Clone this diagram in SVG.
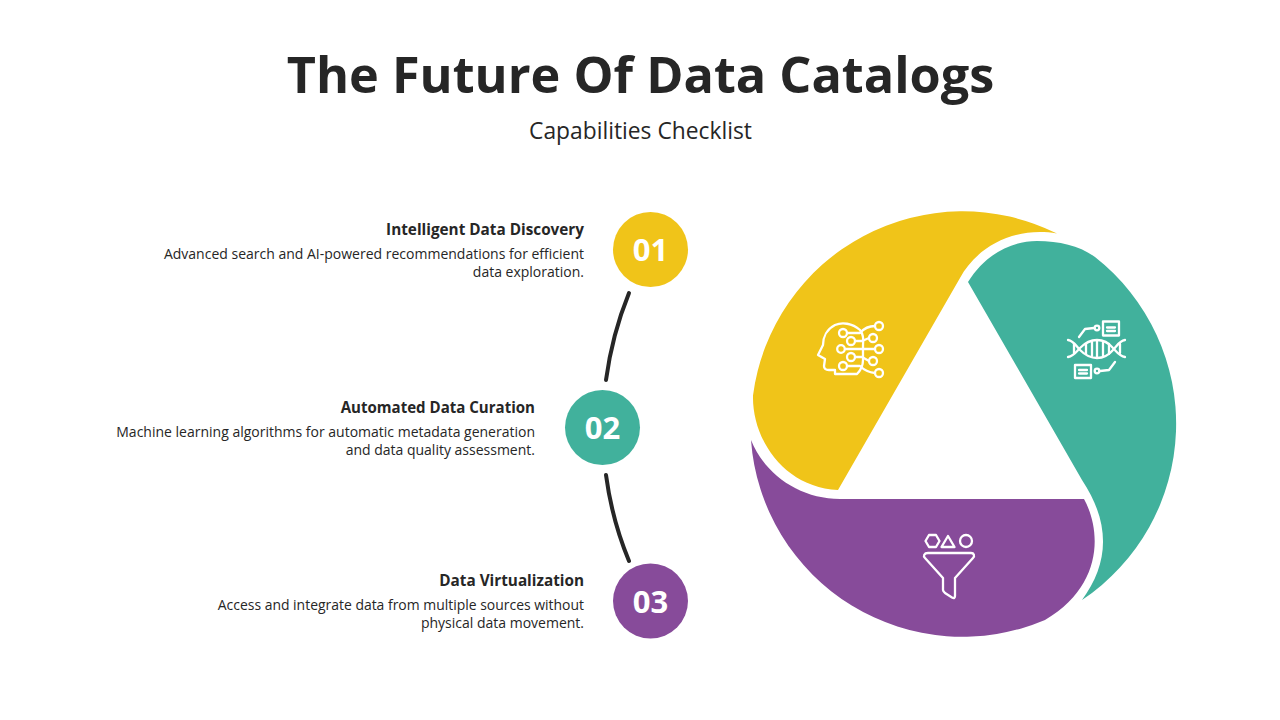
<svg xmlns="http://www.w3.org/2000/svg" width="1280" height="720" viewBox="0 0 1280 720">
<style>
text{font-family:"Open Sans","Noto Sans","Liberation Sans",sans-serif;fill:#262626}
.t{font-size:15.300px;font-weight:700;text-anchor:end}
.d{font-size:14px;text-anchor:end}
.n{font-size:31px;font-weight:700;fill:#fff;text-anchor:middle}
.i{fill:none;stroke:#fff;stroke-width:2.300;stroke-linecap:round;stroke-linejoin:round}
.c{fill:none;stroke:#262626;stroke-width:4;stroke-linecap:round}
</style>
<rect width="1280" height="720" fill="#fff"/>
<text id="title" x="640.500" y="93" text-anchor="middle" font-size="50.400" font-weight="700">The Future Of Data Catalogs</text>
<text id="subtitle" x="640.500" y="139" text-anchor="middle" font-size="22.800">Capabilities Checklist</text>
<g id="connectors">
<path class="c" d="M629 293Q612 335 606 380"/>
<path class="c" d="M606 475Q612 520 629 561"/>
</g>
<g id="node-1">
<circle cx="650.500" cy="249.500" r="37.500" fill="#f0c419"/>
<text class="n" x="650.500" y="261">01</text>
<text class="t" x="584" y="235">Intelligent Data Discovery</text>
<text class="d" x="584" y="259">Advanced search and AI-powered recommendations for efficient</text>
<text class="d" x="584" y="277">data exploration.</text>
</g>
<g id="node-2">
<circle cx="602.500" cy="427.500" r="37.500" fill="#41b19c"/>
<text class="n" x="602.500" y="439">02</text>
<text class="t" x="535" y="413" style="font-size:15.050px">Automated Data Curation</text>
<text class="d" x="535" y="437">Machine learning algorithms for automatic metadata generation</text>
<text class="d" x="535" y="455">and data quality assessment.</text>
</g>
<g id="node-3">
<circle cx="650.500" cy="601" r="37.500" fill="#874b9a"/>
<text class="n" x="650.500" y="612.500">03</text>
<text class="t" x="584" y="586">Data Virtualization</text>
<text class="d" x="584" y="610" style="font-size:13.950px">Access and integrate data from multiple sources without</text>
<text class="d" x="584" y="628">physical data movement.</text>
</g>
<g id="segment-yellow">
<path fill="#f0c419" d="M1057 233.500A211.500 211.500 0 0 0 753 395.500C752 440 785 488 838 490L960 278C975 250 1010 226 1057 233.500Z"/>
<g class="i">
<path d="M860 330C852 323 842 322 835 325C827 329 823 337 823 345L818 355L825 359L824 366C824 369 826 370 829 370H835V374H857C861 370 863 366 863 360V345C864 338 863 334 860 330Z"/>
<path d="M848 333H860Q866 326 875 326M856 341H862L869 338M846 349H875M856 357H862L869 361M848 366H860Q866 372 875 373"/>
<circle cx="843" cy="333" r="4"/><circle cx="851" cy="341" r="4"/><circle cx="841" cy="349" r="3.800"/><circle cx="851" cy="357" r="4"/><circle cx="843" cy="366" r="4"/>
<circle cx="879" cy="326" r="4"/><circle cx="873" cy="338" r="4"/><circle cx="879" cy="349" r="4"/><circle cx="873" cy="361" r="4"/><circle cx="879" cy="373" r="4"/>
</g>
</g>
<g id="segment-teal">
<path fill="#41b19c" d="M968 282C985 255 1010 241 1037 241C1060 241 1080 246 1095 257A212 212 0 0 1 1082 600C1108 565 1112 525 1082 480Z"/>
<g class="i">
<rect x="1103" y="321.500" width="16" height="14"/><path d="M1107 327.500H1115M1107 331H1115"/>
<rect x="1075" y="365" width="16" height="13"/><path d="M1079 370H1087M1079 373.500H1087"/>
<circle cx="1097" cy="328" r="2.300"/><path d="M1094 328L1085 329L1079 337"/>
<circle cx="1097" cy="371" r="2.300"/><path d="M1100 371L1109 370L1115 362"/>
<path d="M1068 340C1074 341 1076 346 1080 350C1086 356 1091 358 1097 358C1103 358 1108 356 1113 350C1117 346 1119 341 1125 340"/>
<path d="M1068 357C1074 356 1076 352 1080 348C1086 342 1091 340 1097 340C1103 340 1108 342 1113 348C1117 352 1119 356 1125 357"/>
<path d="M1074 344V353M1120 344V353M1086 344V354M1092 342V356M1097 341V357M1103 342V356M1109 344V354"/>
</g>
</g>
<g id="segment-purple">
<path fill="#874b9a" d="M751 440C765 475 800 499 840 499H1084C1101 530 1104 585 1045 620A212 212 0 0 1 751 440Z"/>
<g class="i">
<path d="M929 535H936L939.500 541L936 547H929L925.500 541Z"/>
<path d="M948 536L954.500 547H941.500Z"/>
<circle cx="966" cy="541" r="6"/>
<path d="M928 553H971C974 553 975 556 973 558L955 578V596C955 598 954 598.500 952 597.500L945 593C944 592 943 591 943 590V578L925 558C923 556 924 553 928 553Z"/>
</g>
</g>
</svg>
